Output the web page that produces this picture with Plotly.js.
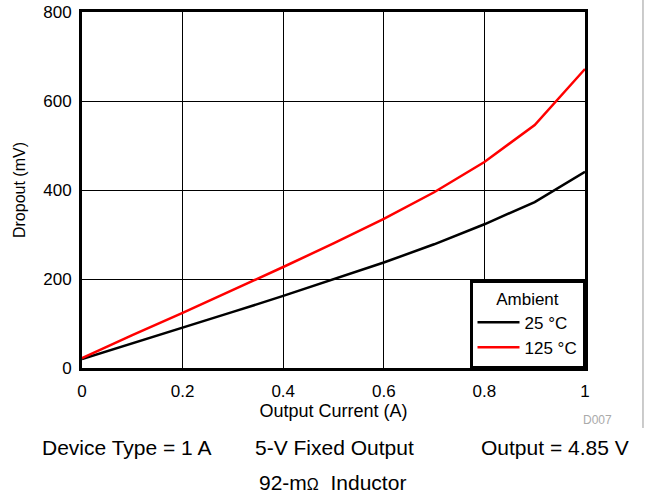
<!DOCTYPE html>
<html>
<head>
<meta charset="utf-8">
<script src="https://cdn.plot.ly/plotly-3.0.1.min.js"></script>
<style>html,body{margin:0;padding:0;background:#fff;}#chart{width:645px;height:494px;}</style>
</head>
<body>
<div id="chart"></div>
<script>
const current = [0, 0.1, 0.2, 0.3, 0.4, 0.5, 0.6, 0.7, 0.8, 0.9, 1.0];
const dropout25 = [20, 55, 90, 126, 162, 199, 237, 278, 323, 373, 441];
const dropout125 = [22, 74, 124, 175, 227, 280, 335, 395, 463, 546, 672];
const seriesNames = ['25 °C', '125 °C'];
const xTicks = [0, 0.2, 0.4, 0.6, 0.8, 1];
const xTickLabels = ['0', '0.2', '0.4', '0.6', '0.8', '1'];
const yTicks = [0, 200, 400, 600, 800];
const yTickLabels = ['0', '200', '400', '600', '800'];

const FONT = 'Liberation Sans, Arial, sans-serif';

const traces = [
  {x: current, y: dropout25, name: seriesNames[0], mode: 'lines', line: {color: '#000000', width: 2.5}},
  {x: current, y: dropout125, name: seriesNames[1], mode: 'lines', line: {color: '#ff0000', width: 2.5}}
];

const ann = (text, x, y, size, color) => ({
  text: text, xref: 'paper', yref: 'paper', x: x, y: y, xanchor: 'center', yanchor: 'middle',
  showarrow: false, font: {family: FONT, size: size, color: color || '#000'}
});

const layout = {
  width: 645, height: 494,
  margin: {l: 82, r: 60, t: 12, b: 126, pad: 0},
  paper_bgcolor: '#ffffff', plot_bgcolor: '#ffffff',
  font: {family: FONT, size: 17, color: '#000'},
  showlegend: true,
  xaxis: {
    range: [0, 1], tickvals: xTicks, ticktext: xTickLabels,
    showgrid: true, gridcolor: '#000', gridwidth: 1,
    showline: true, linecolor: '#000', linewidth: 3, mirror: true,
    zeroline: false, ticks: '', ticklabelstandoff: 6,
    tickfont: {family: FONT, size: 17},
    title: {text: 'Output Current (A)', font: {family: FONT, size: 18}, standoff: 2}
  },
  yaxis: {
    range: [0, 800], tickvals: yTicks, ticktext: yTickLabels,
    showgrid: true, gridcolor: '#000', gridwidth: 1,
    showline: true, linecolor: '#000', linewidth: 3, mirror: true,
    zeroline: false, ticks: '', ticklabelstandoff: 4,
    tickfont: {family: FONT, size: 17},
    title: {text: 'Dropout (mV)', font: {family: FONT, size: 16}, standoff: 14}
  },
  legend: {
    x: 1, y: 0, xanchor: 'right', yanchor: 'bottom',
    bgcolor: '#ffffff', bordercolor: '#000', borderwidth: 2.5,
    font: {family: FONT, size: 17},
    itemwidth: 42,
    title: {text: 'Ambient', side: 'top center', font: {family: FONT, size: 17}},
    tracegroupgap: 0
  },
  shapes: [
    {type: 'line', xref: 'paper', yref: 'paper', x0: 1.1153, x1: 1.1153, y0: 1.04, y1: -0.1685,
     line: {color: '#999999', width: 1}}
  ],
  annotations: [
    ann('D007', 1.024, -0.146, 12, '#aaaaaa'),
    ann('Device Type = 1 A', 0.0875, -0.2247, 21),
    ann('5-V Fixed Output', 0.501, -0.2247, 21),
    ann('Output = 4.85 V', 0.940, -0.2247, 21),
    ann('92-m<span style="font-size:16px">Ω</span>  Inductor', 0.499, -0.323, 21)
  ]
};

Plotly.newPlot('chart', traces, layout, {displayModeBar: false, staticPlot: true});
</script>
</body>
</html>
